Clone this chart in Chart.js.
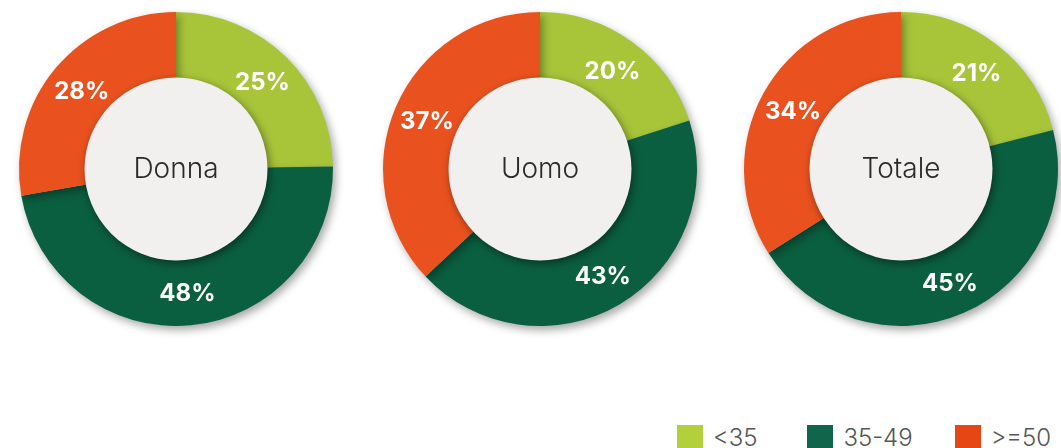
<!DOCTYPE html>
<html>
<head>
<meta charset="utf-8">
<script src="https://cdn.jsdelivr.net/npm/chart.js@4/dist/chart.umd.min.js"></script>
<style>
  html, body { margin: 0; padding: 0; background: #fff; }
  body { width: 1061px; height: 448px; position: relative; overflow: hidden; }
  .pie { position: absolute; width: 340px; height: 340px; }
  .legend { position: absolute; left: 677px; top: 422px; font-family: Inter, "DejaVu Sans", sans-serif;
            font-weight: 300; font-size: 24px; color: #555; white-space: nowrap; }
  .legend span { display: inline-block; vertical-align: middle; }
  .legend .box { width: 26px; height: 26px; margin-right: 10px; }
  .legend .txt { line-height: 26px; }
</style>
</head>
<body>
<div class="pie" style="left:6px; top:-1px;"><canvas id="donna"></canvas></div>
<div class="pie" style="left:370px; top:-1px;"><canvas id="uomo"></canvas></div>
<div class="pie" style="left:731px; top:-1px;"><canvas id="totale"></canvas></div>
<div class="legend" id="legend"></div>
<script>
const categories = ["<35", "35-49", ">=50"];
const colors = ["#a8c53a", "#0b5f41", "#e9521f"];
const legendColors = ["#b3cf3c", "#11654a", "#e64614"];

const donna = [25, 48, 28];
const uomo = [20, 43, 37];
const totale = [21, 45, 34];

const charts = [
  { id: "donna", title: "Donna", values: donna },
  { id: "uomo", title: "Uomo", values: uomo },
  { id: "totale", title: "Totale", values: totale }
];

const shadowPlugin = {
  id: 'shadow',
  beforeDatasetsDraw(chart) {
    const ctx = chart.ctx;
    ctx.save();
    ctx.shadowColor = 'rgba(0,0,0,0.35)';
    ctx.shadowBlur = 8;
    ctx.shadowOffsetX = 3;
    ctx.shadowOffsetY = 4;
  },
  afterDatasetsDraw(chart) {
    chart.ctx.restore();
  }
};

const centerPlugin = {
  id: 'center',
  afterDraw(chart, args, opts) {
    const ctx = chart.ctx;
    const meta = chart.getDatasetMeta(0);
    const arc = meta.data[0];
    const cx = arc.x, cy = arc.y;
    const inner = arc.innerRadius;

    // inner disc
    ctx.save();
    ctx.shadowColor = 'rgba(0,0,0,0.45)';
    ctx.shadowBlur = 8;
    ctx.shadowOffsetX = 2;
    ctx.shadowOffsetY = 3;
    ctx.beginPath();
    ctx.arc(cx, cy, inner + 2, 0, Math.PI * 2);
    ctx.fillStyle = '#f2efef';
    ctx.fill();
    ctx.restore();

    ctx.save();
    ctx.fillStyle = '#2a2a2a';
    ctx.font = '300 28px Inter, "DejaVu Sans", sans-serif';
    ctx.textAlign = 'center';
    ctx.textBaseline = 'middle';
    ctx.fillText(opts.title, cx, cy + 1);

    // percentage labels
    ctx.fillStyle = '#ffffff';
    ctx.font = 'bold 24px Inter, "DejaVu Sans", sans-serif';
    const vals = chart.data.datasets[0].data;
    meta.data.forEach((el, i) => {
      const mid = (el.startAngle + el.endAngle) / 2;
      const r = (el.innerRadius + el.outerRadius) / 2;
      ctx.fillText(vals[i] + '%', cx + Math.cos(mid) * r, cy + Math.sin(mid) * r + 2);
    });
    ctx.restore();
  }
};

charts.forEach(c => {
  new Chart(document.getElementById(c.id), {
    type: 'doughnut',
    data: {
      labels: categories,
      datasets: [{
        data: c.values,
        backgroundColor: colors,
        borderWidth: 0
      }]
    },
    options: {
      responsive: true,
      maintainAspectRatio: false,
      animation: false,
      cutout: '57%',
      layout: { padding: 13 },
      plugins: {
        legend: { display: false },
        tooltip: { enabled: false },
        center: { title: c.title }
      }
    },
    plugins: [shadowPlugin, centerPlugin]
  });
});

const legend = document.getElementById('legend');
categories.forEach((cat, i) => {
  const box = document.createElement('span');
  box.className = 'box';
  box.style.background = legendColors[i];
  const txt = document.createElement('span');
  txt.className = 'txt';
  txt.textContent = cat;
  txt.style.marginRight = i === 0 ? '50px' : (i === 1 ? '42px' : '0');
  legend.appendChild(box);
  legend.appendChild(txt);
});
</script>
</body>
</html>
